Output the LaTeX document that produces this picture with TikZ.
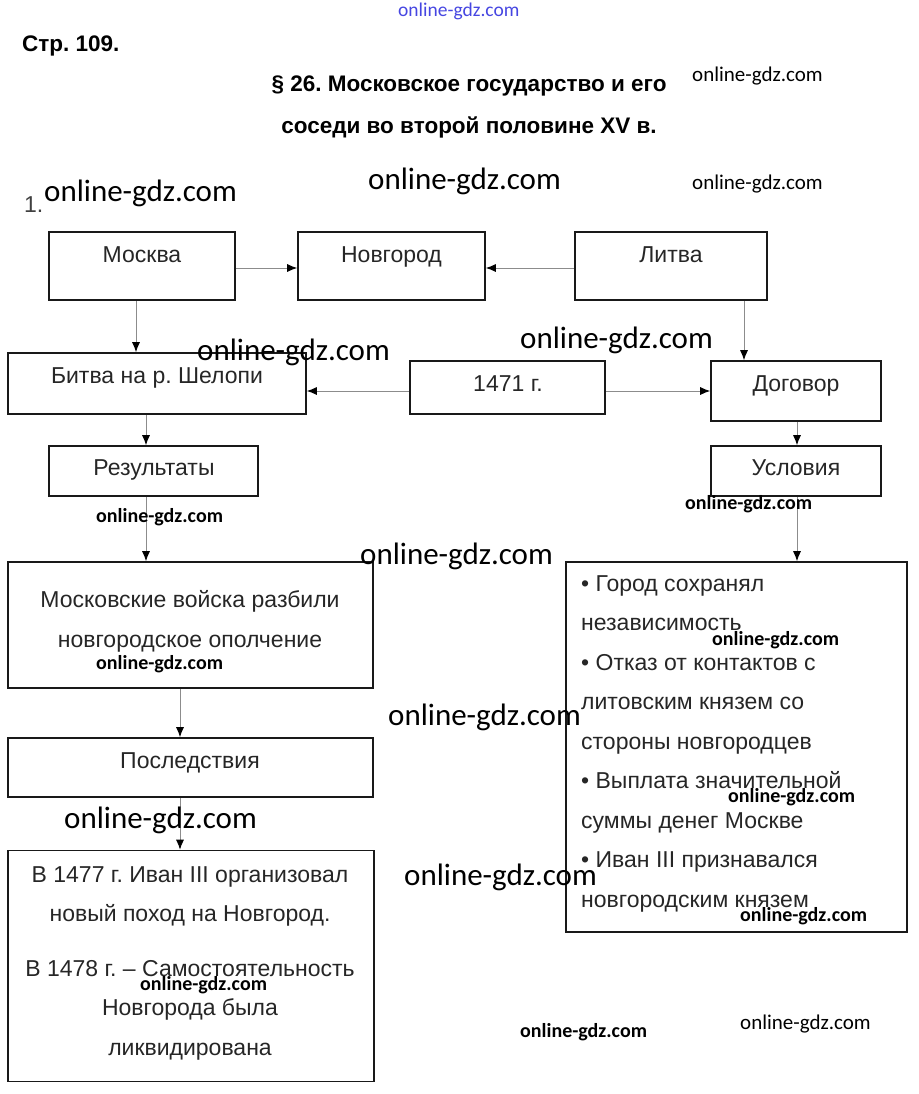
\documentclass[tikz,border=0pt]{standalone}
\usepackage{fontspec}
\setmainfont{Liberation Sans}
\newfontfamily\wmfont{Carlito}
\usetikzlibrary{arrows.meta,positioning}
\definecolor{wmblue}{RGB}{70,70,225}
\frenchspacing

\begin{document}
\begin{tikzpicture}[x=1pt, y=-1pt,
    box/.style={draw=black!90, line width=1.6pt, inner sep=0},
    lbl/.style={font=\fontsize{23}{39.5}\selectfont, text=black!85, inner sep=0, anchor=base},
    head/.style={font=\bfseries\fontsize{22.5}{22.5}\selectfont, inner sep=0, anchor=base},
    conn/.style={draw=black!45, line width=0.9pt, -{Latex[black, length=10pt, width=8pt]}},
    wmbig/.style={font=\wmfont\fontsize{31}{31}\selectfont, inner sep=0, anchor=west},
    wmsmall/.style={font=\wmfont\fontsize{21}{21}\selectfont, inner sep=0, anchor=west},
    wmbold/.style={font=\wmfont\bfseries\fontsize{20}{20}\selectfont, inner sep=0, anchor=west}]
    \useasboundingbox (0,0) rectangle (918,1094);

    % heading
    \node[head, anchor=base west] (page) at (22,52) {Стр. 109.};
    \node[head] (title1) at (469,92) {§ 26. Московское государство и его};
    \node[head] (title2) at (469,134) {соседи во второй половине XV в.};
    \node[lbl, anchor=base west, text=black!75] (num) at (24,212) {1.};

    % boxes
    \node[box, minimum width=186, minimum height=68] (msk) at (142,266) {};
    \node[box, minimum width=187, minimum height=68] (nov) at (391.5,266) {};
    \node[box, minimum width=192, minimum height=68] (lit) at (671,266) {};
    \node[box, minimum width=298, minimum height=61] (bit) at (157,383.5) {};
    \node[box, minimum width=195, minimum height=53] (yr) at (507.5,387.5) {};
    \node[box, minimum width=170, minimum height=60] (dog) at (796,391) {};
    \node[box, minimum width=209, minimum height=50] (res) at (153.5,471) {};
    \node[box, minimum width=170, minimum height=50] (usl) at (796,471) {};
    \node[box, minimum width=365, minimum height=126] (rzb) at (190.5,625) {};
    \node[box, minimum width=365, minimum height=59] (psl) at (190.5,767.5) {};
    \node[box, minimum width=366, minimum height=231] (ito) at (191,966) {};
    \node[box, minimum width=341, minimum height=370] (cond) at (736.5,747) {};

    % box texts (multi-line: base is the last line)
    \node[lbl] (msk-t) at (142,262) {Москва};
    \node[lbl] (nov-t) at (391.5,262) {Новгород};
    \node[lbl] (lit-t) at (671,262) {Литва};
    \node[lbl] (bit-t) at (157,383) {Битва на р. Шелопи};
    \node[lbl] (yr-t) at (508,391) {1471 г.};
    \node[lbl] (dog-t) at (796,391) {Договор};
    \node[lbl] (res-t) at (154,475) {Результаты};
    \node[lbl] (usl-t) at (796,475) {Условия};
    \node[lbl, align=center, font=\fontsize{23}{40}\selectfont] (rzb-t) at (190,647)
        {Московские войска разбили\\новгородское ополчение};
    \node[lbl] (psl-t) at (190,768) {Последствия};
    \node[lbl, align=center] (ito-t) at (190,1055)
        {В 1477 г. Иван III организовал\\новый поход на Новгород.\\[15pt]
         В 1478 г. – Самостоятельность\\Новгорода была\\ликвидирована};
    \node[lbl, align=left, anchor=base west] (cond-t) at (581,907)
        {• Город сохранял\\независимость\\• Отказ от контактов с\\литовским князем со\\стороны новгородцев\\
         • Выплата значительной\\суммы денег Москве\\• Иван III признавался\\новгородским князем};

    % connectors
    \draw[conn] (msk.east |- 0,268) -- (nov.west |- 0,268);
    \draw[conn] (lit.west |- 0,268) -- (nov.east |- 0,268);
    \draw[conn] (msk.south -| 136,0) -- (bit.north -| 136,0);
    \draw[conn] (lit.south -| 744,0) -- (dog.north -| 744,0);
    \draw[conn] (yr.west |- 0,391) -- (bit.east |- 0,391);
    \draw[conn] (yr.east |- 0,391) -- (dog.west |- 0,391);
    \draw[conn] (bit.south -| 146,0) -- (res.north -| 146,0);
    \draw[conn] (dog.south -| 797,0) -- (usl.north -| 797,0);
    \draw[conn] (res.south -| 146,0) -- (rzb.north -| 146,0);
    \draw[conn] (usl.south -| 797,0) -- (cond.north -| 797,0);
    \draw[conn] (rzb.south -| 180,0) -- (psl.north -| 180,0);
    \draw[conn] (psl.south -| 180,0) -- (ito.north -| 180,0);

    % watermarks
    \node[wmsmall, text=wmblue, font=\wmfont\fontsize{19.5}{19.5}\selectfont] (wm-top) at (398,11) {online-gdz.com};
    \node[wmbig] (wm1) at (44,193) {online-gdz.com};
    \node[wmbig] (wm2) at (368,181) {online-gdz.com};
    \node[wmsmall] (wm3) at (692,76) {online-gdz.com};
    \node[wmsmall] (wm4) at (692,184) {online-gdz.com};
    \node[wmbig] (wm5) at (197,352) {online-gdz.com};
    \node[wmbig] (wm6) at (520,340) {online-gdz.com};
    \node[wmbold] (wm7) at (96,517) {online-gdz.com};
    \node[wmbold] (wm8) at (685,504) {online-gdz.com};
    \node[wmbig] (wm9) at (360,556) {online-gdz.com};
    \node[wmbold] (wm10) at (96,664) {online-gdz.com};
    \node[wmbold] (wm11) at (712,640) {online-gdz.com};
    \node[wmbig] (wm12) at (388,717) {online-gdz.com};
    \node[wmbold] (wm13) at (728,797) {online-gdz.com};
    \node[wmbig] (wm14) at (64,820) {online-gdz.com};
    \node[wmbig] (wm15) at (404,877) {online-gdz.com};
    \node[wmbold] (wm16) at (740,916) {online-gdz.com};
    \node[wmbold] (wm17) at (140,985) {online-gdz.com};
    \node[wmbold] (wm18) at (520,1032) {online-gdz.com};
    \node[wmsmall] (wm19) at (740,1024) {online-gdz.com};
\end{tikzpicture}
\end{document}
